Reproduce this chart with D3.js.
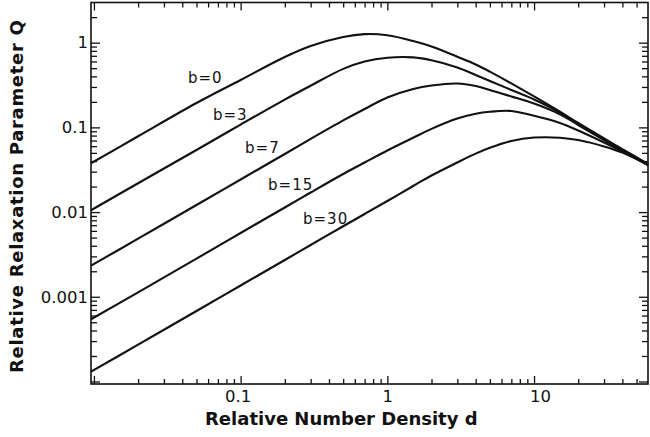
<!DOCTYPE html>
<html lang="en">
<head>
<meta charset="utf-8">
<title>Relative Relaxation Parameter</title>
<script src="https://d3js.org/d3.v7.min.js"></script>
<style>
  body { margin: 0; background: white; }
  text { font-family: "DejaVu Sans", sans-serif; fill: #111; }
</style>
</head>
<body>
<script>

// relative number density d (shared by every curve)
var density = [0.00955, 0.02, 0.05, 0.1, 0.2, 0.3, 0.5, 0.7, 1, 1.5, 2, 3, 4, 5, 7, 10, 15, 20, 30, 40, 59.8];

// relative relaxation parameter Q, one list per b
var q_b0  = [0.0377, 0.0785, 0.194, 0.363, 0.678, 0.914, 1.168, 1.26, 1.223, 1.047, 0.902, 0.682, 0.553, 0.455, 0.330, 0.2317, 0.1532, 0.1127, 0.0739, 0.0553, 0.0370];
var q_b3  = [0.0105, 0.0219, 0.0541, 0.108, 0.213, 0.31, 0.49, 0.60, 0.663, 0.670, 0.62, 0.510, 0.4155, 0.353, 0.2764, 0.2135, 0.150, 0.1097, 0.0730, 0.0541, 0.0365];
var q_b7  = [0.00233, 0.00485, 0.01213, 0.02426, 0.0485, 0.0730, 0.1207, 0.1649, 0.2254, 0.2840, 0.3124, 0.3299, 0.308, 0.2764, 0.2317, 0.1915, 0.143, 0.1067, 0.0710, 0.0534, 0.0360];
var q_b15 = [0.000543, 0.00113, 0.00282, 0.00566, 0.01133, 0.01703, 0.02817, 0.0385, 0.0534, 0.0755, 0.096, 0.127, 0.145, 0.153, 0.156, 0.137, 0.1127, 0.0919, 0.0663, 0.0519, 0.0360];
var q_b30 = [0.0001305, 0.000272, 0.000680, 0.001359, 0.00272, 0.00409, 0.00680, 0.00950, 0.01352, 0.02033, 0.0270, 0.0385, 0.049, 0.0575, 0.0690, 0.0758, 0.0755, 0.0708, 0.0595, 0.0503, 0.0360];

var seriesNames = ["b=0", "b=3", "b=7", "b=15", "b=30"];
var seriesQ = [q_b0, q_b3, q_b7, q_b15, q_b30];

// where each curve label sits, in data units (d, Q)
var labelD = [0.0438, 0.0648, 0.1072, 0.1538, 0.2663];
var labelQ = [0.334, 0.1223, 0.0498, 0.01824, 0.00724];

var xTickLabels = [0.1, 1, 10];
var yTickLabels = [0.001, 0.01, 0.1, 1];

var w = 650, h = 437;
var plotLeft = 91, plotRight = 648, plotTop = 2.5, plotBottom = 384;

var svg = d3.select("body").append("svg")
    .attr("width", w)
    .attr("height", h);

svg.append("rect")
    .attr("width", w).attr("height", h)
    .attr("fill", "white");

var xScale = d3.scaleLog().domain([0.00955, 59.8]).range([plotLeft, plotRight]);
var yScale = d3.scaleLog().domain([9.34e-5, 2.98]).range([plotBottom, plotTop]);

function isMajor(v) {
  var l = Math.log10(v);
  return Math.abs(l - Math.round(l)) < 1e-6;
}
function fmtX(v) { return xTickLabels.some(function(t) { return Math.abs(t - v) < 1e-9; }) ? String(v) : ""; }
function fmtY(v) { return yTickLabels.some(function(t) { return Math.abs(t - v) < 1e-12; }) ? String(v) : ""; }

var xt = xScale.ticks();
var yt = yScale.ticks();

// bottom axis with labels, ticks pointing in
var gx = svg.append("g")
    .attr("transform", "translate(0," + plotBottom + ")")
    .call(d3.axisBottom(xScale).tickValues(xt).tickSizeInner(-5).tickSizeOuter(0).tickPadding(6).tickFormat(fmtX));
gx.selectAll(".tick line").attr("y2", function(d) { return isMajor(d) ? -8 : -5; });
gx.selectAll(".tick text").attr("dx", function(d) { return d > 5 ? 6 : (d < 0.5 ? -3 : 0); });

var gxt = svg.append("g")
    .attr("transform", "translate(0," + plotTop + ")")
    .call(d3.axisTop(xScale).tickValues(xt).tickSizeInner(-5).tickSizeOuter(0).tickFormat(""));
gxt.selectAll(".tick line").attr("y2", function(d) { return isMajor(d) ? 8 : 5; });

var gy = svg.append("g")
    .attr("transform", "translate(" + plotLeft + ",0)")
    .call(d3.axisLeft(yScale).tickValues(yt).tickSizeInner(-6).tickSizeOuter(0).tickPadding(3).tickFormat(fmtY));
gy.selectAll(".tick line").attr("x2", function(d) { return isMajor(d) ? 9 : 6; });

var gyr = svg.append("g")
    .attr("transform", "translate(" + plotRight + ",0)")
    .call(d3.axisRight(yScale).tickValues(yt).tickSizeInner(-6).tickSizeOuter(0).tickFormat(""));
gyr.selectAll(".tick line").attr("x2", function(d) { return isMajor(d) ? -9 : -6; });

svg.selectAll(".domain").remove();
svg.selectAll(".tick line").attr("stroke", "#111").attr("stroke-width", 1.3);
svg.selectAll(".tick text")
    .attr("font-family", "DejaVu Sans, sans-serif")
    .attr("font-size", 16.5)
    .attr("fill", "#111");

// frame
svg.append("rect")
    .attr("x", plotLeft).attr("y", plotTop)
    .attr("width", plotRight - plotLeft).attr("height", plotBottom - plotTop)
    .attr("fill", "none")
    .attr("stroke", "#111")
    .attr("stroke-width", 1.6);

// curves
var line = d3.line()
    .x(function(d) { return xScale(d[0]); })
    .y(function(d) { return yScale(d[1]); })
    .curve(d3.curveCatmullRom.alpha(0.5));

svg.append("g")
  .selectAll("path")
  .data(seriesQ)
  .enter().append("path")
    .attr("d", function(q) { return line(density.map(function(d, i) { return [d, q[i]]; })); })
    .attr("fill", "none")
    .attr("stroke", "#111")
    .attr("stroke-width", 2.1);

// curve labels
svg.append("g")
  .selectAll("text")
  .data(seriesNames)
  .enter().append("text")
    .attr("x", function(d, i) { return xScale(labelD[i]); })
    .attr("y", function(d, i) { return yScale(labelQ[i]); })
    .attr("font-size", 15)
    .attr("letter-spacing", 1)
    .text(function(d) { return d; });

// axis titles
svg.append("text")
    .attr("x", 205)
    .attr("y", 425)
    .attr("font-size", 18)
    .attr("font-weight", "bold")
    .text("Relative Number Density d");

svg.append("text")
    .attr("transform", "translate(23,373) rotate(-90)")
    .attr("font-size", 18)
    .attr("font-weight", "bold")
    .attr("letter-spacing", 0.7)
    .text("Relative Relaxation Parameter Q");

</script>
</body>
</html>
